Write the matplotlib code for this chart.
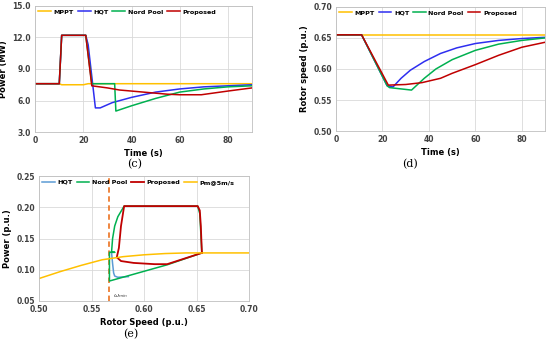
import numpy as np
import matplotlib.pyplot as plt

# (c) power vs time
t_mppt = [0, 10, 11, 20, 22, 90]
p_mppt = [7.6, 7.6, 7.5, 7.5, 7.6, 7.6]
t_hqt = [0, 10, 11, 21, 22, 25, 27, 32, 40, 50, 60, 70, 80, 90]
p_hqt = [7.6, 7.6, 12.2, 12.2, 11.3, 5.3, 5.3, 5.8, 6.3, 6.8, 7.1, 7.3, 7.4, 7.5]
t_nord = [0, 10, 11, 21, 23.5, 33, 33.5, 40, 50, 60, 70, 80, 90]
p_nord = [7.6, 7.6, 12.2, 12.2, 7.6, 7.6, 5.0, 5.5, 6.2, 6.8, 7.1, 7.3, 7.4]
t_prop = [0, 10, 11, 21, 23.5, 30, 35, 45, 55, 60, 69, 80, 90]
p_prop = [7.6, 7.6, 12.2, 12.2, 7.4, 7.2, 7.0, 6.8, 6.6, 6.55, 6.55, 6.9, 7.2]

# (d) rotor speed vs time
w_t_mppt = [0, 90]
w_mppt = [0.655, 0.655]
w_t_hqt = [0, 11, 22, 24.5, 28, 32, 38, 45, 52, 60, 70, 80, 90]
w_hqt = [0.655, 0.655, 0.573, 0.571, 0.585, 0.598, 0.612, 0.625, 0.634, 0.641, 0.646, 0.649, 0.651]
w_t_nord = [0, 11, 22, 23, 32.5, 38, 43, 50, 60, 70, 80, 90]
w_nord = [0.655, 0.655, 0.573, 0.570, 0.566, 0.585, 0.600, 0.615, 0.630, 0.640, 0.646, 0.650]
w_t_prop = [0, 11, 22.5, 30, 37, 45, 50, 60, 70, 80, 90]
w_prop = [0.655, 0.655, 0.574, 0.575, 0.578, 0.585, 0.593, 0.607, 0.622, 0.635, 0.643]

# (e) power vs rotor speed
pm_w = [0.50, 0.52, 0.54, 0.56, 0.58, 0.60, 0.62, 0.64, 0.66, 0.68, 0.70]
pm_p = [0.086, 0.097, 0.107, 0.116, 0.121, 0.124, 0.126, 0.127, 0.127, 0.127, 0.127]
e_hqt_w = [0.569, 0.570, 0.571, 0.572, 0.575, 0.585]
e_hqt_p = [0.128, 0.110, 0.095, 0.090, 0.088, 0.089]
e_nord_w = [0.655, 0.653, 0.651, 0.581, 0.575, 0.572, 0.570, 0.569, 0.572, 0.567, 0.567, 0.622, 0.655]
e_nord_p = [0.127, 0.190, 0.202, 0.202, 0.185, 0.170, 0.150, 0.128, 0.128, 0.128, 0.082, 0.108, 0.127]
e_prop_w = [0.655, 0.654, 0.653, 0.651, 0.581, 0.578, 0.576, 0.574, 0.578, 0.590, 0.610, 0.622, 0.655]
e_prop_p = [0.127, 0.170, 0.195, 0.202, 0.202, 0.170, 0.135, 0.120, 0.114, 0.111, 0.109, 0.109, 0.127]
w_min = 0.567

c_mppt = '#FFC000'
c_hqt = '#2E2EF0'
c_hqt_e = '#5B9BD5'
c_nord = '#00B050'
c_prop = '#C00000'

fig = plt.figure(figsize=(5.5, 3.44), dpi=100)


def style(ax):
    ax.grid(True, color='#D9D9D9', linewidth=0.6)
    ax.set_axisbelow(True)
    for s in ax.spines.values():
        s.set_color('#BFBFBF')
        s.set_linewidth(0.6)
    ax.tick_params(length=0, labelsize=5.5, pad=3)
    for lab in ax.get_xticklabels() + ax.get_yticklabels():
        lab.set_fontweight('bold')
        lab.set_color('#404040')


def legend(ax):
    ax.legend(loc='upper left', ncol=4, frameon=False,
              prop={'weight': 'bold', 'size': 4.6}, handlelength=2.0,
              columnspacing=0.6, handletextpad=0.4, borderaxespad=0.3,
              borderpad=0.2)


# panel (c)
ax1 = fig.add_axes([0.064, 0.616, 0.394, 0.367])
ax1.plot(t_mppt, p_mppt, color=c_mppt, lw=1.1, label='MPPT')
ax1.plot(t_hqt, p_hqt, color=c_hqt, lw=1.1, label='HQT')
ax1.plot(t_nord, p_nord, color=c_nord, lw=1.1, label='Nord Pool')
ax1.plot(t_prop, p_prop, color=c_prop, lw=1.1, label='Proposed')
ax1.set_xlim(0, 90)
ax1.set_ylim(3, 15)
ax1.set_xticks([0, 20, 40, 60, 80])
ax1.set_yticks([3, 6, 9, 12, 15])
ax1.set_yticklabels(['3.0', '6.0', '9.0', '12.0', '15.0'])
ax1.set_xlabel('Time (s)', fontsize=6, fontweight='bold', labelpad=3)
ax1.set_ylabel('Power (MW)', fontsize=6, fontweight='bold', labelpad=3)
style(ax1)
legend(ax1)
fig.text(0.245, 0.515, '(c)', ha='center', fontsize=8, family='DejaVu Serif')

# panel (d)
ax2 = fig.add_axes([0.611, 0.619, 0.380, 0.361])
ax2.plot(w_t_mppt, w_mppt, color=c_mppt, lw=1.1, label='MPPT')
ax2.plot(w_t_hqt, w_hqt, color=c_hqt, lw=1.1, label='HQT')
ax2.plot(w_t_nord, w_nord, color=c_nord, lw=1.1, label='Nord Pool')
ax2.plot(w_t_prop, w_prop, color=c_prop, lw=1.1, label='Proposed')
ax2.set_xlim(0, 90)
ax2.set_ylim(0.5, 0.7)
ax2.set_xticks([0, 20, 40, 60, 80])
ax2.set_yticks([0.50, 0.55, 0.60, 0.65, 0.70])
ax2.set_yticklabels(['0.50', '0.55', '0.60', '0.65', '0.70'])
ax2.set_xlabel('Time (s)', fontsize=6, fontweight='bold', labelpad=3)
ax2.set_ylabel('Rotor speed (p.u.)', fontsize=6, fontweight='bold', labelpad=3)
style(ax2)
legend(ax2)
fig.text(0.745, 0.515, '(d)', ha='center', fontsize=8, family='DejaVu Serif')

# panel (e)
ax3 = fig.add_axes([0.071, 0.125, 0.382, 0.363])
ax3.axvline(w_min, color='#ED7D31', lw=1.3, ls=(0, (3, 2)))
ax3.plot(e_hqt_w, e_hqt_p, color=c_hqt_e, lw=1.1, label='HQT')
ax3.plot(e_nord_w, e_nord_p, color=c_nord, lw=1.1, label='Nord Pool')
ax3.plot(e_prop_w, e_prop_p, color=c_prop, lw=1.3, label='Proposed')
ax3.plot(pm_w, pm_p, color=c_mppt, lw=1.1, label='Pm@5m/s')
ax3.text(w_min + 0.003, 0.056, r'$\omega_{min}$', fontsize=4.5, color='#404040')
ax3.set_xlim(0.5, 0.7)
ax3.set_ylim(0.05, 0.25)
ax3.set_xticks([0.50, 0.55, 0.60, 0.65, 0.70])
ax3.set_xticklabels(['0.50', '0.55', '0.60', '0.65', '0.70'])
ax3.set_yticks([0.05, 0.10, 0.15, 0.20, 0.25])
ax3.set_yticklabels(['0.05', '0.10', '0.15', '0.20', '0.25'])
ax3.set_xlabel('Rotor Speed (p.u.)', fontsize=6, fontweight='bold', labelpad=3)
ax3.set_ylabel('Power (p.u.)', fontsize=6, fontweight='bold', labelpad=3)
style(ax3)
legend(ax3)
fig.text(0.238, 0.02, '(e)', ha='center', fontsize=8, family='DejaVu Serif')

fig.savefig('out.png', dpi=100)
